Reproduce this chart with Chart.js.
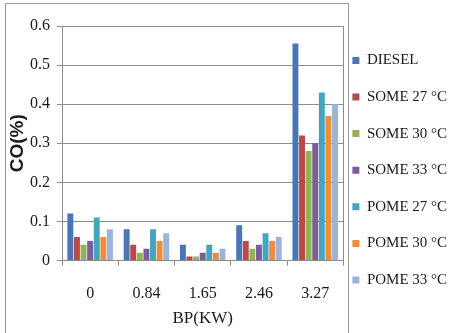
<!DOCTYPE html>
<html>
<head>
<meta charset="utf-8">
<script src="https://cdn.jsdelivr.net/npm/chart.js@4.4.1/dist/chart.umd.min.js"></script>
<style>
  html, body { margin: 0; padding: 0; background: #fff; }
  #wrap { width: 451px; height: 333px; }
</style>
</head>
<body>
<div id="wrap"><canvas id="c"></canvas></div>
<script>
// brake power categories
const bpLabels = ['0', '0.84', '1.65', '2.46', '3.27'];

// CO (%) per fuel
const diesel  = [0.12, 0.08, 0.04, 0.09, 0.555];
const some27  = [0.06, 0.04, 0.01, 0.05, 0.32];
const some30  = [0.04, 0.02, 0.01, 0.03, 0.28];
const some33  = [0.05, 0.03, 0.02, 0.04, 0.30];
const pome27  = [0.11, 0.08, 0.04, 0.07, 0.43];
const pome30  = [0.06, 0.05, 0.02, 0.05, 0.37];
const pome33  = [0.08, 0.07, 0.03, 0.06, 0.40];

const seriesNames = ['DIESEL', 'SOME 27 °C', 'SOME 30 °C', 'SOME 33 °C', 'POME 27 °C', 'POME 30 °C', 'POME 33 °C'];
const seriesData = [diesel, some27, some30, some33, pome27, pome30, pome33];
const colors = ['#4A76B6', '#BA4A47', '#93B255', '#7A5E9C', '#45A5BF', '#F08C3E', '#9CB4DA'];

const serif = "'Liberation Serif', 'Times New Roman', serif";

// outer frame and right edge of the plot
const framePlugin = {
  id: 'frame',
  afterDraw(chart) {
    const ctx = chart.ctx;
    const a = chart.chartArea;
    ctx.save();
    ctx.strokeStyle = '#9a9a9a';
    ctx.lineWidth = 1;
    ctx.strokeRect(5.5, 3.5, 343, 340);
    ctx.strokeStyle = '#8c8c8c';
    ctx.beginPath();
    ctx.moveTo(Math.round(a.right) + 0.5, a.top);
    ctx.lineTo(Math.round(a.right) + 0.5, a.bottom);
    ctx.stroke();
    ctx.restore();
  }
};

new Chart(document.getElementById('c'), {
  type: 'bar',
  data: {
    labels: bpLabels,
    datasets: seriesNames.map((name, i) => ({
      label: name,
      data: seriesData[i],
      backgroundColor: colors[i],
      categoryPercentage: 0.82,
      barPercentage: 0.9
    }))
  },
  options: {
    responsive: true,
    maintainAspectRatio: false,
    animation: false,
    layout: { padding: { left: 8.5, top: 26, right: -4, bottom: 6 } },
    plugins: {
      tooltip: { enabled: false },
      legend: {
        position: 'right',
        labels: {
          boxWidth: 7,
          boxHeight: 7,
          padding: 9,
          color: '#1a1a1a',
          font: { family: serif, size: 15, lineHeight: 1.84 },
          // one-line arrays so the row height follows the font line height
          generateLabels(chart) {
            return Chart.defaults.plugins.legend.labels.generateLabels(chart)
              .map(item => Object.assign(item, { text: [item.text] }));
          }
        }
      }
    },
    scales: {
      x: {
        grid: { display: true, drawOnChartArea: false, offset: true, tickLength: 5, color: '#8c8c8c' },
        border: { color: '#8c8c8c' },
        ticks: { color: '#1a1a1a', padding: 20, font: { family: serif, size: 16, lineHeight: 1 } },
        title: { display: true, text: 'BP(KW)', color: '#1a1a1a', padding: { top: -11.5, bottom: 0 }, font: { family: serif, size: 17, lineHeight: 1 } }
      },
      y: {
        min: 0,
        max: 0.6,
        ticks: { stepSize: 0.1, color: '#1a1a1a', padding: 7, font: { family: serif, size: 16 } },
        grid: { color: '#8c8c8c', tickLength: 5 },
        border: { color: '#8c8c8c' },
        title: { display: true, text: 'CO(%)', color: '#1a1a1a', padding: { top: 0, bottom: -4.5 }, font: { family: "'Liberation Sans', Arial, sans-serif", size: 19, weight: 'bold', lineHeight: 1 } }
      }
    }
  },
  plugins: [framePlugin]
});
</script>
</body>
</html>
